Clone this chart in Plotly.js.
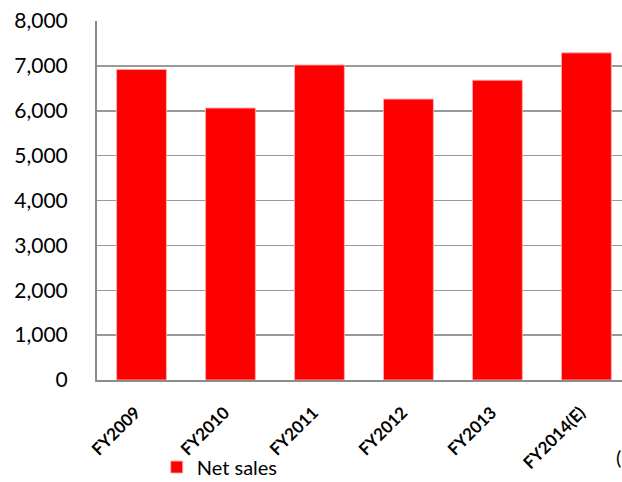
<!DOCTYPE html>
<html>
<head>
<meta charset="utf-8">
<script src="https://cdn.plot.ly/plotly-3.0.1.min.js"></script>
<style>html,body{margin:0;padding:0;background:#fff;}#chart{width:622px;height:482px;}</style>
</head>
<body>
<div id="chart"></div>
<script>
const categories = ["FY2009", "FY2010", "FY2011", "FY2012", "FY2013", "FY2014(E)"];
const netSales = [6920, 6060, 7020, 6260, 6680, 7290];
const yTickVals = [0, 1000, 2000, 3000, 4000, 5000, 6000, 7000, 8000];
const yTickText = ["0", "1,000", "2,000", "3,000", "4,000", "5,000", "6,000", "7,000", "8,000"];
const seriesName = "Net sales";

const trace = {
  type: "bar",
  x: categories,
  y: netSales,
  name: seriesName,
  marker: {color: "#FF0000", line: {color: "rgba(255,170,170,0.9)", width: 1}},
  hoverinfo: "x+y"
};

const layout = {
  width: 622, height: 482,
  margin: {l: 97, r: 0, t: 21, b: 102},
  paper_bgcolor: "#fff", plot_bgcolor: "#fff",
  font: {family: "Lato, 'Open Sans', sans-serif", color: "#000"},
  bargap: 0.44,
  showlegend: true,
  legend: {orientation: "h", xref: "container", yref: "container",
           x: 0.252, y: 0.031, xanchor: "left", yanchor: "middle",
           bgcolor: "rgba(0,0,0,0)",
           font: {size: 20, family: "Lato, sans-serif"}},
  xaxis: {
    type: "category",
    range: [-0.5, 5.4],
    automargin: false,
    tickangle: -45,
    tickfont: {size: 17, family: "Lato, sans-serif", weight: "bold"},
    ticklabelstandoff: 14,
    ticklabelshift: -6,
    showline: true, linecolor: "#8c8c8c", linewidth: 2,
    showgrid: false, ticks: "", zeroline: false
  },
  yaxis: {
    range: [0, 8000],
    automargin: false,
    tickvals: yTickVals, ticktext: yTickText,
    tickfont: {size: 21, family: "Lato, sans-serif"},
    ticklabelstandoff: 23,
    showline: true, linecolor: "#8c8c8c", linewidth: 2,
    showgrid: true, gridcolor: "#9a9a9a", gridwidth: 1.5,
    zeroline: false, ticks: ""
  },
  annotations: [{
    text: "(", xref: "paper", yref: "paper", x: 0.985, y: -0.215,
    xanchor: "left", yanchor: "middle", showarrow: false,
    font: {size: 20, family: "Lato, sans-serif"}
  }]
};

Plotly.newPlot("chart", [trace], layout, {displayModeBar: false, staticPlot: true});
</script>
</body>
</html>
